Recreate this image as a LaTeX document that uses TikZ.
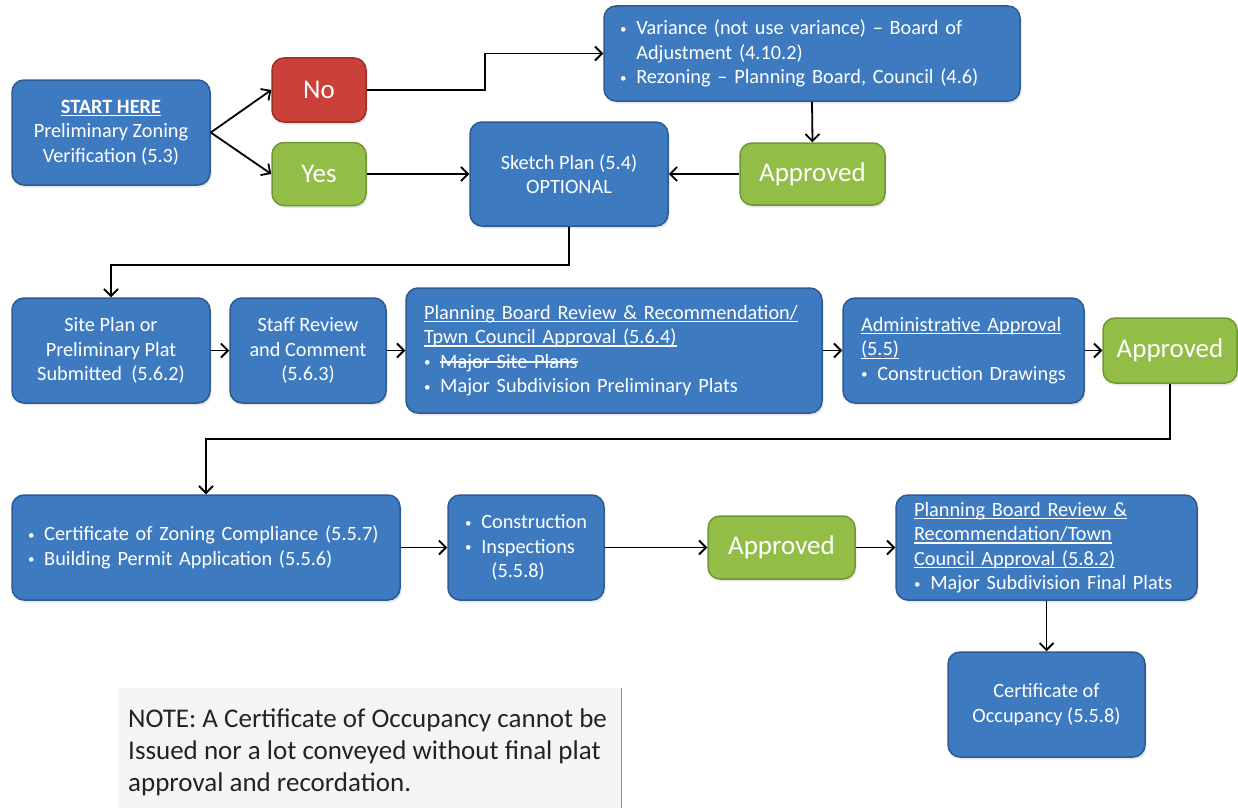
\documentclass[tikz,border=0pt]{standalone}
\usepackage{fontspec}
\setmainfont{Carlito}
\usetikzlibrary{arrows.meta,shadows}
\definecolor{blufill}{RGB}{62,122,192}
\definecolor{bluline}{RGB}{44,90,148}
\definecolor{redfill}{RGB}{204,64,58}
\definecolor{redline}{RGB}{160,44,40}
\definecolor{grnfill}{RGB}{146,190,72}
\definecolor{grnline}{RGB}{112,152,50}
\definecolor{notetext}{RGB}{35,35,35}
\newsavebox\myulbox
\newcommand\myul[1]{\leavevmode\sbox\myulbox{#1}\rlap{\rule[-3pt]{\wd\myulbox}{1.1pt}}\usebox\myulbox}
\newcommand\mystrike[1]{\leavevmode\sbox\myulbox{#1}\rlap{\rule[5.5pt]{\wd\myulbox}{1.2pt}}\usebox\myulbox}
\newcommand\bodyfont{\fontsize{20.3}{24.5}\selectfont}
\newcommand\bigfont{\fontsize{27}{30}\selectfont}
\newcommand\bul{\makebox[0.8em][l]{\raisebox{1.5pt}{\fontsize{13}{13}\selectfont •}}}
\newcommand\ind{\hspace*{0.8em}}
\begin{document}
\begin{tikzpicture}[x=1pt,y=-1pt,
  basebox/.style={rounded corners=12pt, line width=1.5pt, text=white, inner sep=0pt,
     drop shadow={opacity=0.18, shadow xshift=1.5pt, shadow yshift=-2.5pt}},
  bbox/.style={basebox, draw=bluline, fill=blufill, font=\bodyfont, align=center},
  lbox/.style={basebox, draw=bluline, fill=blufill, font=\bodyfont, align=left},
  rbox/.style={basebox, draw=redline, fill=redfill, font=\bigfont},
  gbox/.style={basebox, draw=grnline, fill=grnfill, font=\bigfont},
  arr/.style={draw=black, line width=1.8pt, -{Straight Barb[length=7pt,width=14pt]}},
  notebox/.style={fill=black!4, draw=none, inner sep=0pt, anchor=north west},
  notetxt/.style={text=notetext, font=\fontsize{27}{32}\selectfont, align=left, anchor=west, inner sep=0pt}
]
\useasboundingbox[fill=white] (0,0) rectangle (1238,808);

% row 1
\node[bbox, minimum width=198pt, minimum height=105pt] (start) at (111,132.5)
  {\myul{\textbf{START HERE}}\\Preliminary Zoning\\Verification (5.3)};
\node[rbox, minimum width=94pt, minimum height=64pt] (no) at (319,90) {No};
\node[gbox, minimum width=94pt, minimum height=63pt] (yes) at (319,174) {Yes};
\node[lbox, inner xsep=16pt, text width=384pt, minimum height=95pt] (var) at (812,53.5)
  {\bul Variance (not use variance) -- Board of\\\ind Adjustment (4.10.2)\\\bul Rezoning -- Planning Board, Council (4.6)};
\node[gbox, minimum width=145pt, minimum height=62pt] (ap1) at (812.5,174) {Approved};
\node[bbox, minimum width=198pt, minimum height=104pt] (sketch) at (569,174)
  {Sketch Plan (5.4)\\OPTIONAL};

% row 2
\node[bbox, minimum width=198pt, minimum height=105pt] (site) at (111,350.5)
  {Site Plan or\\Preliminary Plat\\Submitted\ \ (5.6.2)};
\node[bbox, minimum width=156pt, minimum height=105pt] (staff) at (308,350.5)
  {Staff Review\\and Comment\\(5.6.3)};
\node[lbox, inner xsep=18pt, text width=380pt, minimum height=125pt] (pbr) at (614,350.5)
  {\myul{Planning Board Review \& Recommendation/}\\\myul{Tpwn Council Approval (5.6.4)}\\\bul\mystrike{Major Site Plans}\\\bul Major Subdivision Preliminary Plats};
\node[lbox, inner xsep=18pt, text width=205pt, minimum height=105pt] (admin) at (963.5,350.5)
  {\myul{Administrative Approval}\\\myul{(5.5)}\\\bul Construction Drawings};
\node[gbox, minimum width=134pt, minimum height=65pt] (ap2) at (1170,350.5) {Approved};

% row 3
\node[lbox, inner xsep=16pt, text width=356pt, minimum height=105pt] (cert) at (206,547.5)
  {\bul Certificate of Zoning Compliance (5.5.7)\\\bul Building Permit Application (5.5.6)};
\node[lbox, minimum width=156pt, minimum height=105pt] (constr) at (526,547.5)
  {\bul Construction\\\bul Inspections\\\hspace*{1.3em}(5.5.8)};
\node[gbox, minimum width=147pt, minimum height=63pt] (ap3) at (781.5,547.5) {Approved};
\node[lbox, inner xsep=18pt, text width=265pt, minimum height=105pt] (pbf) at (1046.5,547.5)
  {\myul{Planning Board Review \&}\\\myul{Recommendation/Town}\\\myul{Council Approval (5.8.2)}\\\bul Major Subdivision Final Plats};
\node[bbox, minimum width=197pt, minimum height=105pt] (co) at (1046.5,704.5)
  {Certificate of\\Occupancy (5.5.8)};

% note
\node[notebox, minimum width=503pt, minimum height=120pt] (notebg) at (118,688) {};
\draw[black!45, line width=1.5pt] (notebg.north east) -- (notebg.south east);
\node[notetxt] (note) at (128,752)
  {NOTE: A Certificate of Occupancy cannot be\\Issued nor a lot conveyed without final plat\\approval and recordation.};

% connectors
\draw[arr] (start.east) -- (no.west);
\draw[arr] (start.east) -- (yes.west);
\draw[arr] (no.east) -- ++(118,0) |- (var.west);
\draw[arr] (yes.east) -- (sketch.west);
\draw[arr] (var.south) -- (ap1.north);
\draw[arr] (ap1.west) -- (sketch.east);
\draw[arr] (sketch.south) -- ++(0,38) -| (site.north);
\draw[arr] (site.east) -- (staff.west);
\draw[arr] (staff.east) -- (pbr.west);
\draw[arr] (pbr.east) -- (admin.west);
\draw[arr] (admin.east) -- (ap2.west);
\draw[arr] (ap2.south) -- ++(0,55) -| (cert.north);
\draw[arr] (cert.east) -- (constr.west);
\draw[arr] (constr.east) -- (ap3.west);
\draw[arr] (ap3.east) -- (pbf.west);
\draw[arr] (pbf.south) -- (co.north);
\end{tikzpicture}
\end{document}
